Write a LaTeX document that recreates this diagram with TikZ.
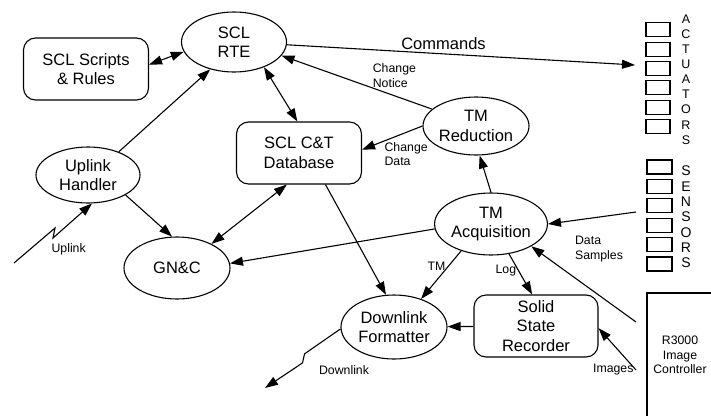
\documentclass[tikz,border=0pt]{standalone}
\usepackage{fontspec}
\setmainfont{Liberation Sans}
\usepackage{tikz}
\usetikzlibrary{arrows.meta,shapes.geometric}
\newcommand{\nodetxt}{\fontsize{16.5}{19.5}\selectfont}
\newcommand{\edgetxt}{\fontsize{12.3}{14.5}\selectfont}

\begin{document}
\begin{tikzpicture}[x=1pt,y=-1pt,->,>={Triangle[length=13pt,width=9pt]},line width=1.1pt]
\tikzstyle{proc}=[ellipse,draw,inner sep=0pt,minimum width=106pt,minimum height=62pt,align=center,font=\nodetxt]
\tikzstyle{store}=[rectangle,draw,rounded corners=12pt,inner sep=0pt,minimum width=125pt,minimum height=62pt,align=center,font=\nodetxt]
\tikzstyle{slot}=[rectangle,draw,inner sep=0pt,minimum width=24pt,minimum height=14pt]
\tikzstyle{lbl}=[font=\edgetxt,align=left,inner sep=2pt]

\useasboundingbox (0,0) rectangle (711,415);

\node[proc,minimum width=105pt,minimum height=60pt] (rte) at (234,42) {SCL\\RTE};
\node[store] (scripts) at (86,69) {SCL Scripts\\\& Rules};
\node[proc,minimum width=104pt,minimum height=56pt] (uplink) at (88,175) {Uplink\\Handler};
\node[store] (db) at (299,153) {SCL C\&T\\Database};
\node[proc,minimum height=58pt] (tmred) at (476,126) {TM\\Reduction};
\node[proc,minimum width=104pt] (tmacq) at (491,224) {TM\\Acquisition};
\node[proc] (gnc) at (177,268) {GN\&C};
\node[proc,minimum height=64pt] (dlf) at (394,327) {Downlink\\Formatter};
\node[store,minimum width=124pt] (ssr) at (536,326) {Solid\\State\\Recorder};
\node[rectangle,draw,minimum width=66pt,minimum height=124pt,align=center,font=\edgetxt] (r3000) at (680,355) {R3000\\Image\\Controller};

% actuator and sensor banks
\foreach \i in {0,...,5}
  \node[slot] (act\i) at (658,29.7+19.4*\i) {};
\foreach \i in {0,...,5}
  \node[slot,minimum width=25pt] (sen\i) at (659.5,167+19.4*\i) {};
\node[font=\fontsize{12.5}{15.1}\selectfont,align=center,inner sep=0pt] (actlbl) at (686,79.5) {A\\C\\T\\U\\A\\T\\O\\R\\S};
\node[font=\fontsize{14}{15.3}\selectfont,align=center,inner sep=0pt] (senlbl) at (686,217) {S\\E\\N\\S\\O\\R\\S};

\coordinate (uplk) at (14,263);
\coordinate (dnlk) at (265,388);
\coordinate (cmd) at (635,65);
\coordinate (smp) at (636,212);
\coordinate (img1) at (636,322);
\coordinate (img2) at (636,370);

\path
(scripts.4) edge[<->] (rte.191)
(uplink.37) edge (rte.229)
(rte.320) edge[<->] (db.93)
(rte.357) edge node[above,pos=.45,font=\nodetxt] (cmdlbl) {Commands} (cmd)
(tmred.159) edge node[lbl,above=6pt,pos=.25] (chnlbl) {Change\\Notice} (rte.344)
(tmred.west) edge node[lbl,below=7.5pt,pos=.27] (chdlbl) {Change\\Data} (db.3)
(tmacq.north) edge (tmred.277)
(smp) edge node[lbl,below=16.5pt,pos=.42] (smplbl) {Data\\Samples} (tmacq.east)
(tmacq.185) edge (gnc.5)
(uplink.332) edge (gnc.99)
(db.249) edge[<->] (gnc.35)
(db.310) edge (dlf.104)
(tmacq.222) edge node[lbl,left,pos=.33] (tmlbl) {TM} (dlf.46)
(tmacq.301) edge node[lbl,left,pos=.42] (loglbl) {Log} (ssr.97)
(ssr) edge (dlf)
(img1) edge (tmacq.331)
(img2) edge node[lbl,left,pos=0] (imglbl) {Images} (ssr.358);

% radio links
\draw (uplk) -- ++(41,-35) -- ++(-2,10) node[lbl,below right,xshift=-4pt,yshift=-3pt] (upllbl) {Uplink} -- (uplink.278);
\draw (dlf.182) -- ++(-36,25) -- ++(-2,9) node[lbl,anchor=west,xshift=14pt,yshift=-7pt] (dnllbl) {Downlink} -- (dnlk);
\end{tikzpicture}
\end{document}
